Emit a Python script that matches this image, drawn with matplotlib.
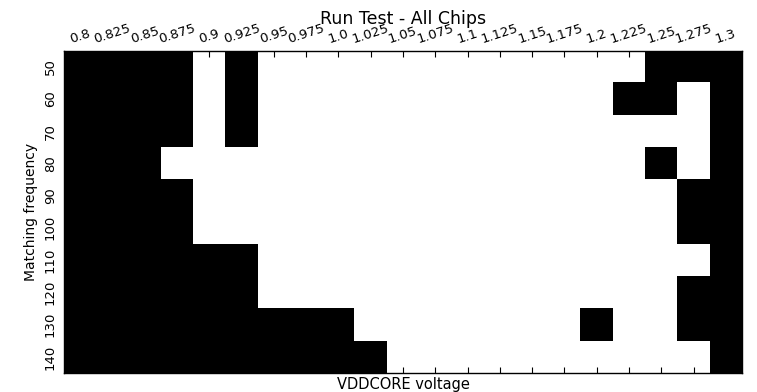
import numpy as np
import matplotlib.pyplot as plt

# VDDCORE voltage steps (columns) and matching frequencies (rows)
voltage_labels = ['0.8', '0.825', '0.85', '0.875', '0.9', '0.925', '0.95', '0.975',
                  '1.0', '1.025', '1.05', '1.075', '1.1', '1.125', '1.15', '1.175',
                  '1.2', '1.225', '1.25', '1.275', '1.3']
frequencies = [50, 60, 70, 80, 90, 100, 110, 120, 130, 140]

# run test result per (frequency, voltage): 1 = pass (white), 0 = fail (black)
passed = [
    [0, 0, 0, 0, 1, 0, 1, 1, 1, 1, 1, 1, 1, 1, 1, 1, 1, 1, 0, 0, 0],
    [0, 0, 0, 0, 1, 0, 1, 1, 1, 1, 1, 1, 1, 1, 1, 1, 1, 0, 0, 1, 0],
    [0, 0, 0, 0, 1, 0, 1, 1, 1, 1, 1, 1, 1, 1, 1, 1, 1, 1, 1, 1, 0],
    [0, 0, 0, 1, 1, 1, 1, 1, 1, 1, 1, 1, 1, 1, 1, 1, 1, 1, 0, 1, 0],
    [0, 0, 0, 0, 1, 1, 1, 1, 1, 1, 1, 1, 1, 1, 1, 1, 1, 1, 1, 0, 0],
    [0, 0, 0, 0, 1, 1, 1, 1, 1, 1, 1, 1, 1, 1, 1, 1, 1, 1, 1, 0, 0],
    [0, 0, 0, 0, 0, 0, 1, 1, 1, 1, 1, 1, 1, 1, 1, 1, 1, 1, 1, 1, 0],
    [0, 0, 0, 0, 0, 0, 1, 1, 1, 1, 1, 1, 1, 1, 1, 1, 1, 1, 1, 0, 0],
    [0, 0, 0, 0, 0, 0, 0, 0, 0, 1, 1, 1, 1, 1, 1, 1, 0, 1, 1, 0, 0],
    [0, 0, 0, 0, 0, 0, 0, 0, 0, 0, 1, 1, 1, 1, 1, 1, 1, 1, 1, 1, 0],
]

grid = np.array(passed)

fig = plt.figure(figsize=(7.57, 3.92), dpi=100)
ax = fig.add_axes([64 / 757, 19 / 392, 678 / 757, 322.5 / 392])

ax.imshow(grid, cmap='gray', vmin=0, vmax=1, aspect='auto', interpolation='nearest')

ax.set_xticks(np.arange(len(voltage_labels)))
ax.set_xticklabels(voltage_labels, rotation=18, fontsize=9.5)
ax.set_yticks(np.arange(len(frequencies)))
ax.set_yticklabels([str(f) for f in frequencies], rotation=90, va='center', fontsize=9.5)

ax.tick_params(axis='x', top=True, bottom=True, labeltop=True, labelbottom=False,
               direction='in', length=4, width=0.8, pad=3)
ax.tick_params(axis='y', left=True, right=True, direction='in', length=4, width=0.8, pad=5)
ax.xaxis.set_label_position('bottom')

for sp in ax.spines.values():
    sp.set_linewidth(1.0)

ax.set_xlabel('VDDCORE voltage', fontsize=10.5, labelpad=3)
ax.set_ylabel('Matching frequency', fontsize=10)
ax.set_title('Run Test - All Chips', fontsize=12.5, y=1.0, pad=19)

plt.savefig('out.png', dpi=100)
